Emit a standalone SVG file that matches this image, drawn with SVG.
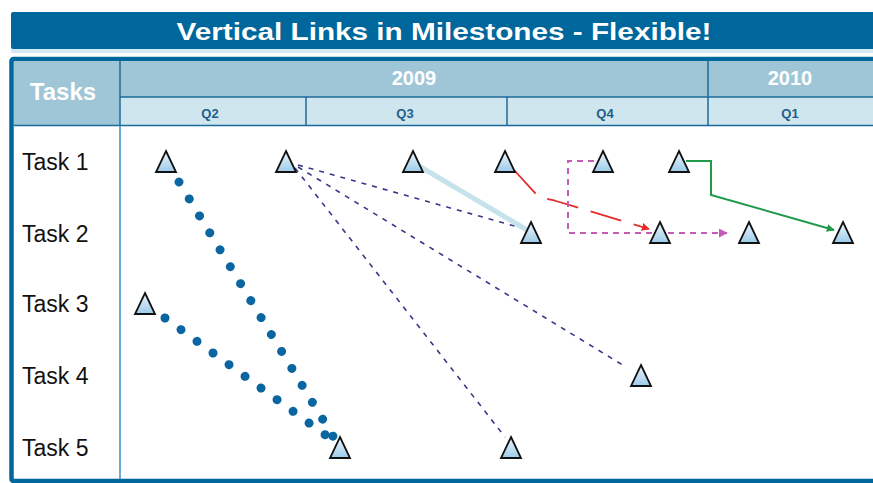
<svg xmlns="http://www.w3.org/2000/svg" width="873" height="483" viewBox="0 0 873 483">
  <style>
    .title { font: bold 24px "Liberation Sans", Arial, sans-serif; fill: #ffffff; }
    .hdr { font: bold 24px "Liberation Sans", Arial, sans-serif; fill: #ffffff; }
    .year { font: bold 20px "Liberation Sans", Arial, sans-serif; fill: #ffffff; }
    .qtr { font: bold 13px "Liberation Sans", Arial, sans-serif; fill: #1f5e8a; }
    .task { font: 23px "Liberation Sans", Arial, sans-serif; fill: #111111; }
    .ms { fill: url(#msFill); stroke: #111111; stroke-width: 1.8; stroke-linejoin: miter; }
    .grid { stroke: #1c6a9a; stroke-width: 1.5; fill: none; }
    .dots { stroke: #0a66a0; stroke-width: 9; stroke-linecap: round; stroke-dasharray: 0.01 19.8; fill: none; }
    .dash { stroke: #38388a; stroke-width: 1.6; stroke-dasharray: 5 6; fill: none; }
  </style>
  <defs>
    <linearGradient id="msFill" x1="0" y1="0" x2="0" y2="1">
      <stop offset="0" stop-color="#eef6fc"/>
      <stop offset="1" stop-color="#9ccbe9"/>
    </linearGradient>
    <path id="tri" d="M0,0 L10,21 L-10,21 Z"/>
    <marker id="arRed" viewBox="0 0 10 10" refX="9" refY="5" markerWidth="8" markerHeight="8" orient="auto" markerUnits="userSpaceOnUse">
      <path d="M0,0 L10,5 L0,10 Z" fill="#e82a2a"/>
    </marker>
    <marker id="arMag" viewBox="0 0 10 10" refX="9" refY="5" markerWidth="9" markerHeight="9" orient="auto" markerUnits="userSpaceOnUse">
      <path d="M0,0 L10,5 L0,10 Z" fill="#c45bb4"/>
    </marker>
    <marker id="arGrn" viewBox="0 0 10 10" refX="9" refY="5" markerWidth="8" markerHeight="8" orient="auto" markerUnits="userSpaceOnUse">
      <path d="M0,0 L10,5 L0,10 Z" fill="#1e9a48"/>
    </marker>
  </defs>

  <rect width="873" height="483" fill="#ffffff"/>

  <!-- title bar -->
  <g id="title">
    <rect x="11" y="12" width="870" height="37" rx="2" fill="#00679d"/>
    <rect x="11" y="49" width="870" height="4" fill="#d4e8f1"/>
    <text class="title" x="444" y="40" text-anchor="middle" textLength="535" lengthAdjust="spacingAndGlyphs">Vertical Links in Milestones - Flexible!</text>
  </g>

  <!-- chart table -->
  <g id="table">
    <rect x="11.5" y="59" width="870" height="422" rx="2" fill="#ffffff" stroke="#00679d" stroke-width="4.5"/>
    <rect x="14" y="61" width="106" height="64" fill="#9ec6d6"/>
    <rect x="120" y="61" width="753" height="36" fill="#9ec6d6"/>
    <rect x="120" y="97" width="753" height="28" fill="#cfe6ef"/>
    <line class="grid" x1="120" y1="61" x2="120" y2="125"/>
    <line class="grid" x1="120" y1="97" x2="873" y2="97"/>
    <line class="grid" x1="14" y1="125.5" x2="873" y2="125.5"/>
    <line class="grid" x1="708" y1="61" x2="708" y2="125"/>
    <line class="grid" x1="306" y1="97" x2="306" y2="125"/>
    <line class="grid" x1="507" y1="97" x2="507" y2="125"/>
    <line x1="120" y1="126" x2="120" y2="479" stroke="#3d8cc4" stroke-width="1.5"/>
    <text class="hdr" x="63" y="100" text-anchor="middle">Tasks</text>
    <text class="year" x="414" y="85" text-anchor="middle">2009</text>
    <text class="year" x="790" y="85" text-anchor="middle">2010</text>
    <text class="qtr" x="210" y="118" text-anchor="middle">Q2</text>
    <text class="qtr" x="405" y="118" text-anchor="middle">Q3</text>
    <text class="qtr" x="605" y="118" text-anchor="middle">Q4</text>
    <text class="qtr" x="790" y="118" text-anchor="middle">Q1</text>
    <text class="task" x="22" y="170">Task 1</text>
    <text class="task" x="22" y="242">Task 2</text>
    <text class="task" x="22" y="312">Task 3</text>
    <text class="task" x="22" y="384">Task 4</text>
    <text class="task" x="22" y="456">Task 5</text>
  </g>

  <!-- links between milestones -->
  <g id="connectors">
    <line class="dots" x1="179" y1="182" x2="334" y2="438"/>
    <line class="dots" x1="165" y1="318" x2="331" y2="439"/>
    <line class="dash" x1="298" y1="165" x2="525" y2="229"/>
    <line class="dash" x1="298" y1="167" x2="626" y2="367"/>
    <line class="dash" x1="295" y1="168" x2="505" y2="437"/>
    <line x1="419" y1="166" x2="527" y2="230" stroke="#c6e2ea" stroke-width="5" stroke-linecap="round"/>
    <path d="M514,170 L536,194 C541,198 548,199 556,201 L649,229" fill="none" stroke="#e82a2a" stroke-width="1.8" stroke-dasharray="32 13" marker-end="url(#arRed)"/>
    <path d="M594,161 L568,161 L568,233 L727,233" fill="none" stroke="#c45bb4" stroke-width="2" stroke-dasharray="6 5" marker-end="url(#arMag)"/>
    <path d="M686,161 L711,161 L711,195 L834,230" fill="none" stroke="#1e9a48" stroke-width="2" marker-end="url(#arGrn)"/>
  </g>

  <!-- milestones -->
  <g id="m-t1-a"><use href="#tri" class="ms" x="166" y="151"/></g>
  <g id="m-t1-b"><use href="#tri" class="ms" x="286" y="151"/></g>
  <g id="m-t1-c"><use href="#tri" class="ms" x="413" y="151"/></g>
  <g id="m-t1-d"><use href="#tri" class="ms" x="505" y="151"/></g>
  <g id="m-t1-e"><use href="#tri" class="ms" x="603" y="151"/></g>
  <g id="m-t1-f"><use href="#tri" class="ms" x="679" y="151"/></g>
  <g id="m-t2-a"><use href="#tri" class="ms" x="531" y="222"/></g>
  <g id="m-t2-b"><use href="#tri" class="ms" x="660" y="222"/></g>
  <g id="m-t2-c"><use href="#tri" class="ms" x="749" y="222"/></g>
  <g id="m-t2-d"><use href="#tri" class="ms" x="843" y="222"/></g>
  <g id="m-t3-a"><use href="#tri" class="ms" x="145" y="293"/></g>
  <g id="m-t4-a"><use href="#tri" class="ms" x="641" y="365"/></g>
  <g id="m-t5-a"><use href="#tri" class="ms" x="340" y="437"/></g>
  <g id="m-t5-b"><use href="#tri" class="ms" x="511" y="437"/></g>
</svg>
